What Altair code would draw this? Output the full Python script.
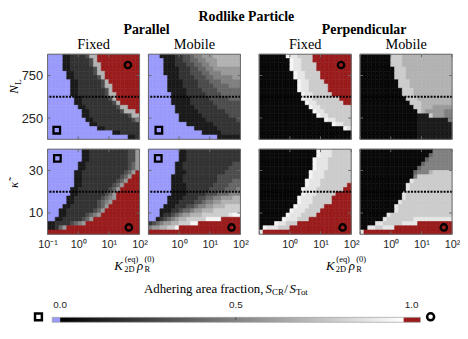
import altair as alt
import pandas as pd

# ---------------------------------------------------------------- data
LOGK_DOMAIN = [-1.0, 2.0]          # log10 of K_2D^(eq) rho_R^(0)
N_DOMAIN = [0.0, 1000.0]           # N_L (top row)
KAPPA_DOMAIN = [0.0, 40.0]         # kappa tilde (bottom row)
X_TICKS = [-1, 0, 1, 2]
X_TICK_TEXT = ["10⁻¹", "10⁰", "10¹", "10²"]
N_TICKS = [250, 750]
KAPPA_TICKS = [10, 30]
N_LINE = [500]
KAPPA_LINE = [20]
MAIN_TITLE = "Rodlike Particle"
GROUP_TITLES = ["Parallel", "Perpendicular"]
COLUMN_TITLES = ["Fixed", "Mobile"]

# grid codes: B = 0 (no adhesion), R = 1 (full adhesion),
# digit d = adhering fraction d/10, W = 0.97 ; rows top -> bottom
P_TOP_PAR_FIXED = [
    "BBBB112222377RRRRRRRRRRR",
    "BBBB112222237RRRRRRRRRRR",
    "BBBB1122222377RRRRRRRRRR",
    "BBBB1122222237RRRRRRRRRR",
    "BBBBB1122222377RRRRRRRRR",
    "BBBBB1122222237RRRRRRRRR",
    "BBBBBB1122222237RRRRRRRR",
    "BBBBBB11222222377RRRRRRR",
    "BBBBBB11222222237RRRRRRR",
    "BBBBBB112222222377RRRRRR",
    "BBBBBBB11222222237RRRRRR",
    "BBBBBBB112222222237RRRRR",
    "BBBBBBBB1122222222377RRR",
    "BBBBBBBBB11222222223777R",
    "BBBBBBBBB112222222222377",
    "BBBBBBBBBB11222222222235",
    "BBBBBBBBBBB1122222222222",
    "BBBBBBBBBBBBB11222222222",
    "BBBBBBBBBBBBBBBBB1122222",
    "BBBBBBBBBBBBBBBBBBBBB112",
]
P_TOP_PAR_MOBILE = [
    "BBB111122334556667777777",
    "BBBB11122334455666777777",
    "BBBB11122233445566777777",
    "BBBB11112223344556666666",
    "BBBB11112223334455566666",
    "BBBBB1112222333445555566",
    "BBBBB1111222233344455555",
    "BBBBB1111222233334444555",
    "BBBBB1111122223333444444",
    "BBBBBB111122222333344444",
    "BBBBBB111112222233333444",
    "BBBBBB111112222223333333",
    "BBBBBBB11111222222333333",
    "BBBBBBB11111122222223333",
    "BBBBBBBB1111112222222333",
    "BBBBBBBB1111111222222223",
    "BBBBBBBBBB11111112222222",
    "BBBBBBBBBBBB111111222222",
    "BBBBBBBBBBBBBB1111122222",
    "BBBBBBBBBBBBBBBBBB111111",
]
P_TOP_PERP_FIXED = [
    "0000000W998888RRRRRRRRRR",
    "00000000W99888RRRRRRRRRR",
    "00000000W998888RRRRRRRRR",
    "00000000W998888RRRRRRRRR",
    "000000000W998888RRRRRRRR",
    "000000000W998888RRRRRRRR",
    "0000000000W998888RRRRRRR",
    "0000000000W9988888RRRRRR",
    "0000000000W9988888RRRRRR",
    "00000000000W9988888RRRRR",
    "00000000000W998888888RRR",
    "000000000000W998888888RR",
    "0000000000000W9988888888",
    "00000000000000W998888888",
    "000000000000000W99888888",
    "00000000000000000W998888",
    "0000000000000000000W9988",
    "0000000000000000000000W9",
    "000000000000000000000000",
    "000000000000000000000000",
]
P_TOP_PERP_MOBILE = [
    "000000008887777777777777",
    "000000008887777777777777",
    "000000008887777777777777",
    "000000000888777777777777",
    "000000000888777777777777",
    "000000000888777777777777",
    "000000000088877777777777",
    "000000000088877777777777",
    "000000000008887777777777",
    "000000000008887777777777",
    "000000000000888777777777",
    "000000000000088877777777",
    "000000000000008877766666",
    "000000000000000876666655",
    "000000000000000111866655",
    "000000000000000111111115",
    "000000000000000111111111",
    "000000000000000111111111",
    "000000000000000111111111",
    "000000000000000111111111",
]
P_BOT_PAR_FIXED = [
    "BBBBBBBBB112222222222336",
    "BBBBBBBBB112222222222336",
    "BBBBBBBBB112222222222336",
    "BBBBBBBB1122222222222346",
    "BBBBBBBB1122222222222346",
    "BBBBBBB1122222222222346R",
    "BBBBBBB112222222222346RR",
    "BBBBBBB11222222222346RRR",
    "BBBBBBB1122222222346RRRR",
    "BBBBBB1122222222346RRRRR",
    "BBBBBB112222222346RRRRRR",
    "BBBBB1122222223456RRRRRR",
    "BBBBB112222223456RRRRRRR",
    "BBBB112222222346RRRRRRRR",
    "BBB112222222346RRRRRRRRR",
    "BBB11222223456RRRRRRRRRR",
    "BB1122222346RRRRRRRRRRRR",
    "1122223456RRRRRRRRRRRRRR",
    "11246RRRRRRRRRRRRRRRRRRR",
    "RRRRRRRRRRRRRRRRRRRRRRRR",
]
P_BOT_PAR_MOBILE = [
    "BBBBBBBB1122222222222222",
    "BBBBBBBB1122222222222222",
    "BBBBBBBB1122222222222222",
    "BBBBBBB11222222222222233",
    "BBBBBBB11222222222222333",
    "BBBBBBB11122222222223333",
    "BBBBBB111222222222333333",
    "BBBBBB111222222222333344",
    "BBBBBB111122222223333444",
    "BBBBBB111122222233334445",
    "BBBBBB111122222333444555",
    "BBBBB1111222233445566677",
    "BBBBB1112222334556677777",
    "BBBB11122233455667778888",
    "BBB111223445667778888888",
    "BBB1223456677788888889WW",
    "BB1234567788888WWWWRRRRR",
    "23456677888WWRRRRRRRRRRR",
    "5667788WRRRRRRRRRRRRRRRR",
    "RRRRRRRRRRRRRRRRRRRRRRRR",
]
P_BOT_PERP_FIXED = [
    "000000000000000W99988888",
    "000000000000000W99988888",
    "00000000000000W999888888",
    "00000000000000W999888888",
    "00000000000000W999888888",
    "0000000000000W9998888888",
    "0000000000000W9998888888",
    "000000000000W99988888888",
    "000000000000W9998888888R",
    "00000000000W9998888888RR",
    "00000000000W99988888RRRR",
    "0000000000W99988888RRRRR",
    "0000000000W99988888RRRRR",
    "000000000W9998888RRRRRRR",
    "00000000W9998888RRRRRRRR",
    "0000000W9998888RRRRRRRRR",
    "000000W999888RRRRRRRRRRR",
    "0000W99888RRRRRRRRRRRRRR",
    "0W999888RRRRRRRRRRRRRRRR",
    "9RRRRRRRRRRRRRRRRRRRRRRR",
]
P_BOT_PERP_MOBILE = [
    "000000000000000000055555",
    "000000000000000000455555",
    "000000000000000004555555",
    "000000000000000045555555",
    "000000000000000455555555",
    "000000000000004555788888",
    "000000000000005888888888",
    "000000000000098888888888",
    "000000000000988888888888",
    "000000000000988888888888",
    "000000000009888888888888",
    "000000000009888888888888",
    "000000000098888888888888",
    "000000000988888888888888",
    "000000000988888888888888",
    "000000098888888888888888",
    "000000988888889999999999",
    "000099888889999RRRRRRRRR",
    "009988999RRRRRRRRRRRRRRR",
    "9RRRRRRRRRRRRRRRRRRRRRRR",
]

# marker positions (log10 K, y value)
SQ_P1 = ([-0.70], [107])
CI_P1 = ([1.62], [874])
SQ_P2 = ([-0.66], [107])
CI_P3 = ([1.67], [874])
SQ_P5 = ([-0.68], [35.7])
CI_P5 = ([1.65], [3.2])
SQ_P6 = ([-0.68], [35.7])
CI_P6 = ([1.71], [3.2])
CI_P7 = ([1.72], [3.2])
CI_P8 = ([1.73], [3.2])

# colour bar
CB_DOMAIN = [-0.0357, 1.1126]
CB_BLUE = [-0.0225, 0.0]
CB_GRAD = [0.0, 0.9775]
CB_RED = [0.9775, 1.0253]
CB_LABEL_POS = [0.0, 0.5, 1.0]
CB_LABELS = ["0.0", "0.5", "1.0"]
CB_MID_TICK = [0.5]
CB_SQUARE = [-0.0616]
CB_CIRCLE = [1.0543]

# ---------------------------------------------------------------- style
W, H = 93, 86
BLUE = "#9a9afc"
RED = "#991b1b"
BORDER = "#6b6b6b"
AXC = "#262626"
SERIF = "Liberation Serif"
SANS = "Liberation Sans"
XEXPR = "[" + ",".join("'%s'" % t for t in X_TICK_TEXT) + "][round(datum.value) + 1]"


def code_color(ch):
    if ch == "B":
        return BLUE
    if ch == "R":
        return RED
    v = 0.96 if ch == "W" else max(int(ch) / 10.0, 0.03)
    g = int(round(v * 255))
    return "#%02x%02x%02x" % (g, g, g)


def grid_frame(rows, ydom):
    nr, nc = len(rows), len(rows[0])
    x_lo, x_hi = LOGK_DOMAIN
    y_lo, y_hi = ydom
    rec = []
    for r, line in enumerate(rows):
        for c, ch in enumerate(line):
            rec.append({
                "x0": x_lo + (x_hi - x_lo) * c / nc,
                "x1": x_lo + (x_hi - x_lo) * (c + 1) / nc,
                "y0": y_hi - (y_hi - y_lo) * (r + 1) / nr,
                "y1": y_hi - (y_hi - y_lo) * r / nr,
                "hex": code_color(ch),
            })
    return pd.DataFrame(rec)


def T(s, x, y, size, font=SERIF, style="normal", weight="normal",
      align="center", angle=None, color="black"):
    props = dict(font=font, fontSize=size, fontStyle=style, fontWeight=weight,
                 align=align, baseline="alphabetic", color=color)
    if angle is not None:
        props["angle"] = angle
    return alt.Chart(pd.DataFrame({"s": [s]})).mark_text(**props).encode(
        text="s:N", x=alt.value(x), y=alt.value(y))


def anchor(x, y):
    return alt.Chart(pd.DataFrame({"a": [0]})).mark_rect(opacity=0).encode(
        x=alt.value(x), x2=alt.value(x + 2), y=alt.value(y), y2=alt.value(y + 2))


def x_title(x0):
    return [
        T("K", x0, H + 36, 13, style="italic", align="left"),
        T("2D", x0 + 10, H + 38.5, 8.5, align="left"),
        T("(eq)", x0 + 10.5, H + 28.5, 8.5, align="left"),
        T("ρ", x0 + 23, H + 36, 13, style="italic", align="left"),
        T("R", x0 + 30.5, H + 38.5, 8.5, align="left"),
        T("(0)", x0 + 30.5, H + 28.5, 8.5, align="left"),
    ]


def panel(rows, ydom, yticks, yline, sq=None, ci=None, xvals=None, yvals=None, texts=()):
    xs = alt.Scale(domain=LOGK_DOMAIN, nice=False, zero=False)
    ys = alt.Scale(domain=ydom, nice=False, zero=False)
    if xvals is None:
        xax = None
    else:
        xax = alt.Axis(values=xvals, labelExpr=XEXPR, title=None, domain=False,
                       ticks=False, tickSize=0, grid=False, labelFont=SANS,
                       labelFontSize=11, labelColor=AXC, labelPadding=4,
                       labelFlush=False, labelOverlap=False)
    if yvals is None:
        yax = None
    else:
        yax = alt.Axis(values=yvals, title=None, domain=False, ticks=False,
                       tickSize=0, grid=False, labelFont=SANS, labelFontSize=13,
                       labelColor=AXC, labelPadding=5, labelFlush=False,
                       labelOverlap=False)

    def X(f):
        return alt.X(f, type="quantitative", scale=xs, axis=xax)

    def Y(f):
        return alt.Y(f, type="quantitative", scale=ys, axis=yax)

    heat = alt.Chart(grid_frame(rows, ydom)).mark_rect(strokeWidth=0.6).encode(
        x=X("x0"), x2="x1", y=Y("y0"), y2="y1",
        fill=alt.Fill("hex:N", scale=None), stroke=alt.Stroke("hex:N", scale=None))
    dotted = alt.Chart(pd.DataFrame({"v": yline})).mark_rule(
        color="black", strokeWidth=2, strokeDash=[2, 1.3]).encode(y=Y("v"))
    xt = pd.DataFrame({"t": X_TICKS})
    yt = pd.DataFrame({"t": yticks})
    tick = dict(color=BORDER, strokeWidth=1)
    layers = [
        heat, dotted,
        alt.Chart(xt).mark_rule(**tick).encode(x=X("t"), y=alt.value(H - 3), y2=alt.value(H)),
        alt.Chart(xt).mark_rule(**tick).encode(x=X("t"), y=alt.value(0), y2=alt.value(3)),
        alt.Chart(yt).mark_rule(**tick).encode(y=Y("t"), x=alt.value(0), x2=alt.value(3)),
        alt.Chart(yt).mark_rule(**tick).encode(y=Y("t"), x=alt.value(W - 3), x2=alt.value(W)),
        alt.Chart(pd.DataFrame({"a": [0]})).mark_rect(filled=False, color=BORDER, strokeWidth=1).encode(
            x=alt.value(0), x2=alt.value(W), y=alt.value(0), y2=alt.value(H)),
    ]
    if sq is not None:
        layers.append(alt.Chart(pd.DataFrame({"k": sq[0], "v": sq[1]})).mark_point(
            shape="square", filled=False, color="black", strokeWidth=2.3, size=44, opacity=1
        ).encode(x=X("k"), y=Y("v")))
    if ci is not None:
        layers.append(alt.Chart(pd.DataFrame({"k": ci[0], "v": ci[1]})).mark_point(
            shape="circle", filled=False, color="black", strokeWidth=2.3, size=42, opacity=1
        ).encode(x=X("k"), y=Y("v")))
    layers.extend(texts)
    return alt.layer(*layers)


# ---------------------------------------------------------------- colour bar (drawn below panel 5)
CB_TOP = H + 84            # bar top, relative to the bottom-left panel
CB_BOT = CB_TOP + 5
cbs = alt.Scale(domain=CB_DOMAIN, range=[0, 408], nice=False, zero=False)


def CX(f):
    return alt.X(f, type="quantitative", scale=cbs, axis=None)


ends = pd.DataFrame({"a": [CB_BLUE[0], CB_RED[0]], "b": [CB_BLUE[1], CB_RED[1]], "c": [BLUE, RED]})
colorbar = alt.layer(
    alt.Chart(pd.DataFrame({"a": [CB_GRAD[0]], "b": [CB_GRAD[1]]})).mark_rect(
        color=alt.Gradient(gradient="linear",
                           stops=[alt.GradientStop(color="#000000", offset=0),
                                  alt.GradientStop(color="#ffffff", offset=1)],
                           x1=0, x2=1, y1=0, y2=0)
    ).encode(x=CX("a"), x2="b", y=alt.value(CB_TOP), y2=alt.value(CB_BOT)),
    alt.Chart(ends).mark_rect().encode(x=CX("a"), x2="b", y=alt.value(CB_TOP), y2=alt.value(CB_BOT),
                                       fill=alt.Fill("c:N", scale=None)),
    alt.Chart(pd.DataFrame({"a": [CB_BLUE[0]], "b": [CB_RED[1]]})).mark_rect(
        filled=False, color="#a0a0a0", strokeWidth=0.7
    ).encode(x=CX("a"), x2="b", y=alt.value(CB_TOP), y2=alt.value(CB_BOT)),
    alt.Chart(pd.DataFrame({"p": CB_MID_TICK})).mark_rule(color="#404040", strokeWidth=0.8).encode(
        x=CX("p"), y=alt.value(CB_TOP), y2=alt.value(CB_TOP + 2.5)),
    alt.Chart(pd.DataFrame({"p": CB_LABEL_POS, "s": CB_LABELS})).mark_text(
        font=SANS, fontSize=10, color=AXC, baseline="alphabetic", align="center"
    ).encode(x=CX("p"), y=alt.value(CB_TOP - 9), text="s:N"),
    alt.Chart(pd.DataFrame({"p": CB_SQUARE})).mark_point(
        shape="square", filled=False, color="black", strokeWidth=2.5, size=48, opacity=1
    ).encode(x=CX("p"), y=alt.value(CB_TOP - 0.5)),
    alt.Chart(pd.DataFrame({"p": CB_CIRCLE})).mark_point(
        shape="circle", filled=False, color="black", strokeWidth=2.5, size=50, opacity=1
    ).encode(x=CX("p"), y=alt.value(CB_TOP - 0.5)),
    T("Adhering area fraction,", 218.3, CB_TOP - 25, 13, align="right"),
    T("S", 220.3, CB_TOP - 25, 13, style="italic", align="left"),
    T("CR", 227, CB_TOP - 22.5, 9, align="left"),
    T("/", 239.3, CB_TOP - 25, 13, align="left"),
    T("S", 244.7, CB_TOP - 25, 13, style="italic", align="left"),
    T("Tot", 251.3, CB_TOP - 22.5, 9, align="left"),
)

# ---------------------------------------------------------------- panels
p1 = panel(P_TOP_PAR_FIXED, N_DOMAIN, N_TICKS, N_LINE, SQ_P1, CI_P1, None, N_TICKS, texts=[
    anchor(-40, -44),
    T(MAIN_TITLE, 201, -34, 14, weight="bold"),
    T(GROUP_TITLES[0], 100, -20.5, 14, weight="bold"),
    T(COLUMN_TITLES[0], W / 2, -5.5, 14.5),
    T("N", -29.7, 35.7, 13, style="italic", angle=270),
    T("L", -27.3, 28.1, 9, angle=270),
])
p2 = panel(P_TOP_PAR_MOBILE, N_DOMAIN, N_TICKS, N_LINE, SQ_P2, None, texts=[
    T(COLUMN_TITLES[1], W / 2, -5.5, 14.5)])
p3 = panel(P_TOP_PERP_FIXED, N_DOMAIN, N_TICKS, N_LINE, None, CI_P3, texts=[
    T(GROUP_TITLES[1], 106, -20.5, 14, weight="bold"),
    T(COLUMN_TITLES[0], W / 2, -5.5, 14.5)])
p4 = panel(P_TOP_PERP_MOBILE, N_DOMAIN, N_TICKS, N_LINE, texts=[
    T(COLUMN_TITLES[1], W / 2, -5.5, 14.5)])
p5_core = panel(P_BOT_PAR_FIXED, KAPPA_DOMAIN, KAPPA_TICKS, KAPPA_LINE, SQ_P5, CI_P5,
                X_TICKS, KAPPA_TICKS,
                texts=[T("κ̃", -29.7, 36, 13, style="italic", angle=270)] + x_title(67.5))
p5 = alt.layer(p5_core, colorbar).resolve_scale(x="independent")
p6 = panel(P_BOT_PAR_MOBILE, KAPPA_DOMAIN, KAPPA_TICKS, KAPPA_LINE, SQ_P6, CI_P6, X_TICKS[1:])
p7 = panel(P_BOT_PERP_FIXED, KAPPA_DOMAIN, KAPPA_TICKS, KAPPA_LINE, None, CI_P7, X_TICKS[1:],
           texts=x_title(67.5))
p8 = panel(P_BOT_PERP_MOBILE, KAPPA_DOMAIN, KAPPA_TICKS, KAPPA_LINE, None, CI_P8, X_TICKS[1:])


def sized(c):
    return c.properties(width=W, height=H)


def spacer():
    return alt.Chart(pd.DataFrame({"a": [0]})).mark_rule(opacity=0).encode(
        x=alt.value(0), y=alt.value(0)).properties(width=0.001, height=H)


chart = alt.concat(
    sized(p1), sized(p2), spacer(), sized(p3), sized(p4),
    sized(p5), sized(p6), spacer(), sized(p7), sized(p8),
    columns=5, spacing={"row": 10, "column": 9}, bounds="flush", align="each",
).properties(padding=0, background="white").configure_view(stroke=None)

chart.save("out.html", embed_options={"renderer": "svg", "actions": False})
